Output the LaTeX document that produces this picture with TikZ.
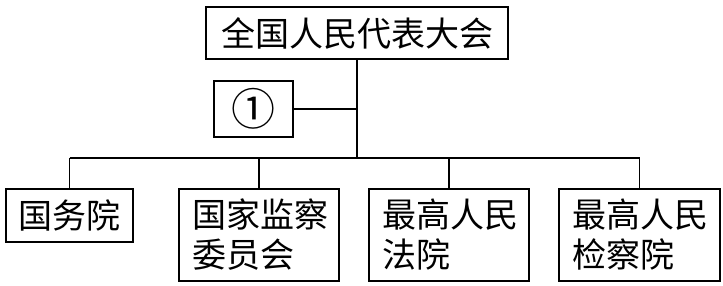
\documentclass[tikz,border=0pt]{standalone}
\usepackage{fontspec}
\newfontfamily\cjk{Noto Sans CJK SC}
\usetikzlibrary{positioning}

\begin{document}
\begin{tikzpicture}[x=1pt,y=-1pt,line width=1.6pt,
          organ/.style={draw,inner sep=0pt,
            font=\cjk\fontsize{34}{40}\selectfont},
          court/.style={organ,anchor=north,inner xsep=13pt,
            text width=134pt,align=left,minimum height=92pt}
        ]
        \useasboundingbox (0,0) rectangle (723,285);
        \node[organ,minimum width=302pt,minimum height=52pt]
          (npc) at (357,33) {全国人民代表大会};
        \node[organ,minimum width=79pt,minimum height=56pt,
          font=\cjk\fontsize{44}{44}\selectfont]
          (circ) at (253.5,109) {①};
        \coordinate (bus) at (357,158);
        \node[organ,anchor=north,minimum width=127pt,minimum height=53pt]
          (gwy) at (69.5,188) {国务院};
        \node[court] (jw) at (259,188) {国家监察\\委员会};
        \node[court] (fy) at (449,188) {最高人民\\法院};
        \node[court,text width=135pt] (jcy) at (639.5,188) {最高人民\\检察院};
        \draw (npc.south) -- (bus);
        \draw (circ.east) -- (circ.east -| bus);
        \draw (gwy.north |- bus) -- (jcy.north |- bus);
        \foreach \n in {gwy,jw,fy,jcy} {
          \draw (\n.north |- bus) -- (\n.north);
        }
      \end{tikzpicture}
\end{document}
